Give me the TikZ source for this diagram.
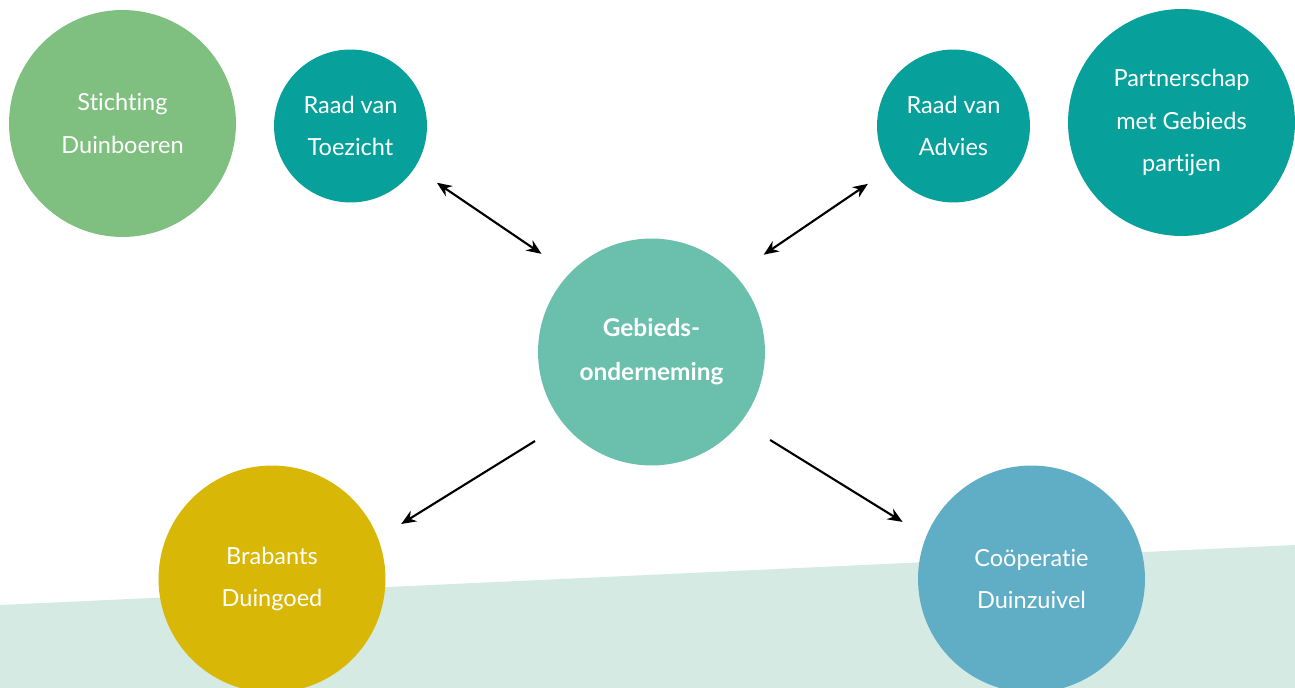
\documentclass[tikz,border=0pt]{standalone}
\usepackage{fontspec}
\setmainfont{Lato}[Ligatures=NoCommon]
\usetikzlibrary{arrows.meta}
\usetikzlibrary{positioning}
\definecolor{duingreen}{RGB}{127,191,127}
\definecolor{raadteal}{RGB}{8,160,155}
\definecolor{gebiedmint}{RGB}{106,192,173}
\definecolor{brabantgold}{RGB}{217,183,6}
\definecolor{zuivelblue}{RGB}{95,174,198}
\definecolor{bgmint}{RGB}{213,234,227}

\begin{document}
\begin{tikzpicture}[x=0.02cm, y=-0.02cm]
  \tikzstyle{blob} = [circle, inner sep=0pt, minimum size=4.54cm, text=white,
                      align=center, font=\fontsize{13.4pt}{24.2pt}\selectfont]
  \tikzstyle{smallblob} = [blob, minimum size=3.06cm]
  \tikzstyle{linkarrow} = [line width=1.2pt, -{Stealth[length=8.5pt, width=7pt]}]
  \tikzstyle{twoway} = [linkarrow, {Stealth[length=8.5pt, width=7pt]}-{Stealth[length=8.5pt, width=7pt]}]
  \useasboundingbox (0,0) rectangle (1295,688);
% Background band
  \fill[bgmint] (0,605) -- (1295,545) -- (1295,688) -- (0,688) -- cycle;
% Circles
  \node[blob, fill=duingreen] (stichting) at (122.5,123.5) {Stichting\\Duinboeren};
  \node[smallblob, fill=raadteal] (toezicht) at (350.5,126) {Raad van\\Toezicht};
  \node[smallblob, fill=raadteal] (advies) at (953.5,126) {Raad van\\Advies};
  \node[blob, fill=raadteal] (partners) at (1181.5,122.5) {Partnerschap\\met Gebieds\\partijen};
  \node[blob, fill=gebiedmint, font=\fontsize{13.9pt}{25pt}\selectfont\bfseries] (gebieds) at (651.5,352) {Gebieds-\\onderneming};
  \node[blob, fill=brabantgold] (brabants) at (272,579) {Brabants\\Duingoed};
  \node[blob, fill=zuivelblue] (cooperatie) at (1031.5,579) {Coöperatie\\Duinzuivel};
% Arrows
  \draw[twoway, shorten <=0.53cm, shorten >=0.68cm] (toezicht.-33) -- (gebieds.136);
  \draw[twoway, shorten <=0.53cm, shorten >=0.7cm] (advies.-146.3) -- (gebieds.43.2);
  \draw[linkarrow, shorten <=0.66cm, shorten >=0.54cm] (gebieds.-141.5) -- (brabants.21.3);
  \draw[linkarrow, shorten <=0.68cm, shorten >=0.55cm] (gebieds.-38.5) -- (cooperatie.158.6);
\end{tikzpicture}
\end{document}
